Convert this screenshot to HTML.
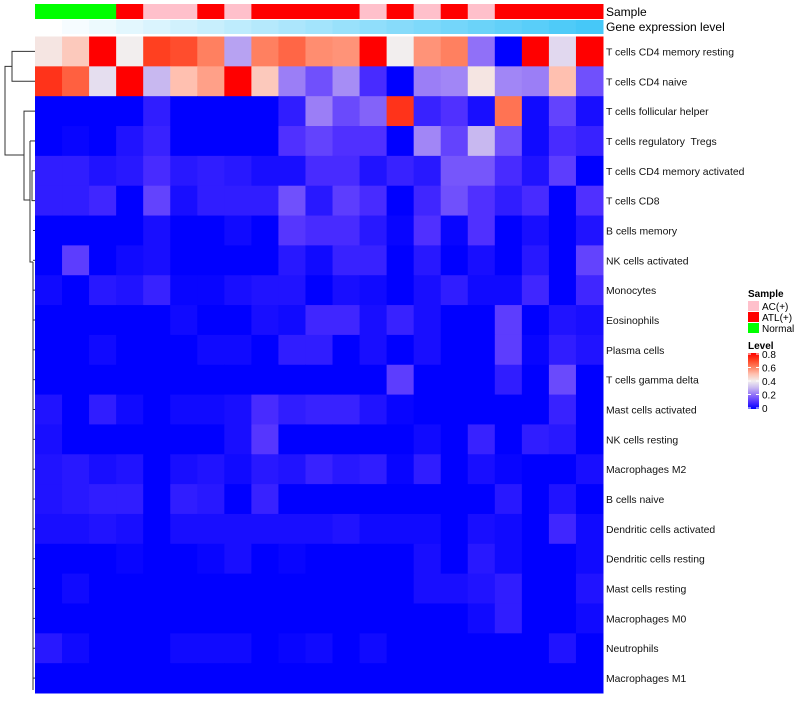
<!DOCTYPE html>
<html><head><meta charset="utf-8"><style>
body{margin:0;background:#fff;font-family:"Liberation Sans",sans-serif}
svg text{font-family:"Liberation Sans",sans-serif;white-space:pre}
</style></head><body>
<svg id="chart" width="800" height="700" xmlns="http://www.w3.org/2000/svg"></svg>
<script>
const rowLabels=["T cells CD4 memory resting","T cells CD4 naive","T cells follicular helper","T cells regulatory  Tregs","T cells CD4 memory activated","T cells CD8","B cells memory","NK cells activated","Monocytes","Eosinophils","Plasma cells","T cells gamma delta","Mast cells activated","NK cells resting","Macrophages M2","B cells naive","Dendritic cells activated","Dendritic cells resting","Mast cells resting","Macrophages M0","Neutrophils","Macrophages M1"];
const sampleGroups=["Normal","Normal","Normal","ATL","AC","AC","ATL","AC","ATL","ATL","ATL","ATL","AC","ATL","AC","ATL","AC","ATL","ATL","ATL","ATL"];
const values=[
[.42,.48,.8,.4,.7,.68,.6,.27,.6,.64,.58,.57,.8,.4,.57,.6,.2,0,.8,.36,.8],
[.72,.65,.37,.8,.3,.5,.55,.8,.48,.22,.15,.24,.09,0,.22,.23,.42,.23,.22,.5,.15],
[0,0,0,0,.06,0,0,0,0,.06,.22,.14,.18,.72,.07,.1,.03,.62,.02,.13,.03],
[0,.01,0,.04,.07,0,0,0,0,.1,.13,.1,.1,0,.23,.13,.3,.15,.02,.09,.07],
[.06,.06,.04,.05,.09,.05,.06,.05,.03,.03,.09,.09,.04,.07,.05,.16,.16,.09,.04,.12,0],
[.06,.06,.08,0,.13,.03,.06,.06,.06,.15,.05,.12,.09,0,.08,.15,.1,.06,.09,0,.1],
[0,0,0,0,.03,0,0,.02,0,.11,.09,.09,.05,.01,.1,.01,.1,0,.03,0,.04],
[0,.12,0,.02,.03,0,0,0,0,.05,.02,.07,.07,0,.05,0,.03,0,.05,0,.13],
[.02,0,.05,.04,.07,.01,.01,.03,.04,.04,0,.03,.02,0,.03,.06,.02,.02,.08,0,.08],
[0,0,0,0,0,.02,0,0,.03,.02,.08,.08,.03,.07,.03,0,0,.12,0,.04,.03],
[0,0,.02,0,0,0,.02,.02,0,.06,.06,0,.03,0,.03,0,0,.12,.01,.06,.04],
[0,0,0,0,0,0,0,0,0,0,0,0,0,.12,0,0,0,.06,0,.14,0],
[.04,0,.06,.02,0,.02,.02,.03,.09,.06,.07,.07,.04,.01,0,0,0,0,0,.07,0],
[.03,0,0,0,0,0,0,.03,.11,0,0,0,0,0,.02,0,.07,0,.06,.05,0],
[.04,.05,.03,.04,0,.03,.04,.02,.05,.04,.07,.05,.06,.01,.06,0,.03,.01,0,0,.03],
[.04,.05,.06,.06,0,.06,.05,0,.07,0,0,0,0,0,0,0,0,.05,0,.04,0],
[.03,.03,.04,.03,0,.03,.03,.03,.03,.03,.03,.04,.02,.02,.02,0,.03,.02,0,.08,.02],
[0,0,0,.01,0,0,.01,.03,0,.01,0,0,0,0,.03,0,.05,.02,0,0,.02],
[0,.02,0,0,0,0,0,0,0,0,0,0,0,0,.03,.03,.04,.06,0,0,.04],
[0,0,0,0,0,0,0,0,0,0,0,0,0,0,0,0,.02,.06,0,0,.02],
[.05,.02,0,0,0,.02,.02,.02,0,.01,.02,0,.02,0,0,0,0,0,0,.04,0],
[0,0,0,0,0,0,0,0,0,0,0,0,0,0,0,0,0,0,0,0,0]];
const legendLevels=["0.8","0.6","0.4","0.2","0"];

const NS="http://www.w3.org/2000/svg";
const svg=document.getElementById('chart');
function mk(t,a,p){const e=document.createElementNS(NS,t);for(const k in a)e.setAttribute(k,a[k]);(p||svg).appendChild(e);return e;}
const X0=35,X1=603,Y0=36.5,Y1=693;
const nC=values[0].length,nR=values.length;
const cw=(X1-X0)/nC,rh=(Y1-Y0)/nR;
const xPos=c=>X0+c*cw, yPos=r=>Y0+r*rh;
const stops=[[0,[0,0,255]],[.1,[80,48,255]],[.2,[144,112,248]],[.3,[200,184,240]],[.4,[242,238,238]],[.5,[255,192,176]],[.6,[255,128,96]],[.7,[255,64,32]],[.8,[255,0,0]]];
function col(v){v=Math.max(0,Math.min(.8,v));for(let i=1;i<stops.length;i++){if(v<=stops[i][0]){const a=stops[i-1],b=stops[i],t=(v-a[0])/(b[0]-a[0]);return 'rgb('+a[1].map((x,j)=>Math.round(x+(b[1][j]-x)*t)).join(',')+')';}}return 'rgb(255,0,0)';}
const gc={Normal:'#00ff00',ATL:'#ff0000',AC:'#ffc0cb'};
for(let c=0;c<nC;c++){
  const s=mk('rect',{x:xPos(c),y:4,width:cw+0.5,height:15,fill:gc[sampleGroups[c]]});
  
  
  const t=c/(nC-1);
  const g=mk('rect',{x:xPos(c),y:20,width:cw+0.5,height:14,fill:'rgb('+Math.round(255-185*t)+','+Math.round(255-55*t)+','+Math.round(255-7*t)+')'});
  
  
}
let tx=mk('text',{x:606,y:16,'font-size':12});tx.textContent='Sample';

tx=mk('text',{x:606,y:31,'font-size':12});tx.textContent='Gene expression level';

for(let r=0;r<nR;r++){
  for(let c=0;c<nC;c++){
    const e=mk('rect',{x:xPos(c),y:yPos(r),width:cw+0.5,height:rh+0.5,fill:col(values[r][c])});
    
    
  }
  const l=mk('text',{x:606,y:yPos(r)+rh/2+4,'font-size':10.4,fill:'#111'});l.textContent=rowLabels[r];
  
  
}
const dg=mk('g',{stroke:'#333','stroke-width':1,fill:'none'});

const cy=r=>yPos(r)+rh/2;
const segs=[
`M35 ${cy(0)}H12V${cy(1)}H35`,`M12 ${(cy(0)+cy(1))/2}H5V155H24`,
`M35 ${cy(2)}H24V200H30`,`M30 141V262H33`,`M35 ${cy(3)}H30`,
`M35 ${cy(4)}H32V${cy(5)}H35`,`M33 262V690`,`M33 ${cy(6)}H35`,`M33 ${cy(21)}H35`];
segs.forEach(d=>mk('path',{d},dg));
for(let r=7;r<21;r++)mk('path',{d:`M33 ${cy(r)}H35`},dg);
const lg=mk('g',{});
let t=mk('text',{x:748,y:297,'font-size':10,'font-weight':'bold'},lg);t.textContent='Sample';
[['AC(+)','#ffc0cb'],['ATL(+)','#ff0000'],['Normal','#00ff00']].forEach((d,i)=>{
  const r=mk('rect',{x:748,y:301+i*11,width:11,height:10,fill:d[1]},lg);
  
  const q=mk('text',{x:762,y:310+i*11,'font-size':10},lg);q.textContent=d[0];
});
t=mk('text',{x:748,y:349,'font-size':10,'font-weight':'bold'},lg);t.textContent='Level';
const gd=mk('linearGradient',{id:'lv',x1:0,y1:1,x2:0,y2:0},mk('defs',{}));
stops.forEach(s=>mk('stop',{offset:s[0]/.8,'stop-color':col(s[0])},gd));
const cb=mk('rect',{x:748,y:353,width:11,height:56,fill:'url(#lv)'},lg);

legendLevels.forEach((s,i)=>{const y=354+i*13.5;mk('line',{x1:748,x2:751,y1:y,y2:y,stroke:'#fff'},lg);mk('line',{x1:756,x2:759,y1:y,y2:y,stroke:'#fff'},lg);
  const q=mk('text',{x:762,y:y+4,'font-size':10},lg);q.textContent=s;});
</script>
</body></html>
